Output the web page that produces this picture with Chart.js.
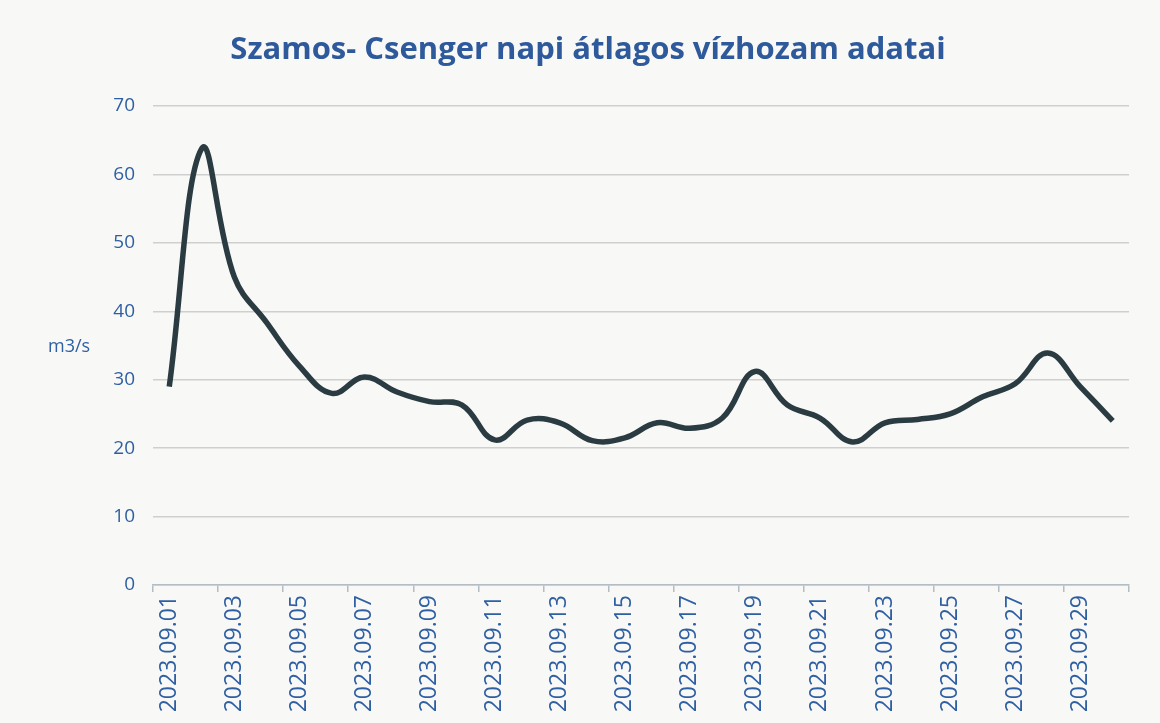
<!DOCTYPE html>
<html>
<head>
<meta charset="utf-8">
<script src="https://cdn.jsdelivr.net/npm/chart.js@4"></script>
<style>
html,body{margin:0;padding:0;background:#f8f8f6;}
#wrap{width:1160px;height:723px;position:relative;}
</style>
</head>
<body>
<div id="wrap"><canvas id="c" width="1160" height="723"></canvas></div>
<script>
const categories = ["2023.09.01","2023.09.02","2023.09.03","2023.09.04","2023.09.05","2023.09.06","2023.09.07","2023.09.08","2023.09.09","2023.09.10","2023.09.11","2023.09.12","2023.09.13","2023.09.14","2023.09.15","2023.09.16","2023.09.17","2023.09.18","2023.09.19","2023.09.20","2023.09.21","2023.09.22","2023.09.23","2023.09.24","2023.09.25","2023.09.26","2023.09.27","2023.09.28","2023.09.29","2023.09.30"];
const flowValues = [29.0,63.8,45.0,38.3,32.0,28.0,30.4,28.2,26.8,26.3,21.2,24.1,23.7,21.1,21.5,23.7,22.9,24.4,31.2,26.3,24.4,20.9,23.7,24.2,25.0,27.5,29.4,33.9,29.0,24.0];
const yTicks = [0,10,20,30,40,50,60,70];
const titleText = "Szamos- Csenger napi átlagos vízhozam adatai";
const unitText = "m3/s";

const blue = '#2f5fa3';
const textPlugin = {
  id: 'texts',
  afterDraw(chart) {
    const ctx = chart.ctx;
    ctx.save();
    ctx.font = 'bold 31px "Open Sans"';
    ctx.fillStyle = '#2e5a9c';
    ctx.textAlign = 'center';
    ctx.textBaseline = 'middle';
    ctx.fillText(titleText, 588, 50);
    ctx.font = '18px "Open Sans"';
    ctx.fillStyle = blue;
    ctx.textAlign = 'left';
    ctx.fillText(unitText, 48, 347);
    ctx.restore();
  }
};
const bgPlugin = {
  id: 'bg',
  beforeDraw(chart) {
    const ctx = chart.ctx;
    ctx.save();
    ctx.fillStyle = '#f8f8f6';
    ctx.fillRect(0, 0, chart.width, chart.height);
    ctx.restore();
  }
};

new Chart(document.getElementById('c'), {
  type: 'line',
  data: {
    labels: categories,
    datasets: [{
      data: flowValues,
      borderColor: '#2a3b42',
      borderWidth: 5.5,
      pointRadius: 0,
      tension: 0.4,
      fill: false
    }]
  },
  options: {
    responsive: false,
    animation: false,
    devicePixelRatio: 1,
    layout: { padding: { left: 0, right: 31, top: 106, bottom: 0 } },
    plugins: {
      legend: { display: false },
      tooltip: { enabled: false },
      title: { display: false }
    },
    scales: {
      x: {
        offset: true,
        grid: {
          offset: true,
          drawOnChartArea: false,
          drawTicks: true,
          tickLength: 7,
          color: (c) => (c.index === undefined || c.index % 2 === 0) ? '#b4bcc4' : 'rgba(0,0,0,0)',
          lineWidth: 1.5
        },
        border: { display: true, color: '#b4bcc4', width: 1.5 },
        ticks: {
          autoSkip: false,
          minRotation: 90,
          maxRotation: 90,
          color: blue,
          font: { family: '"Open Sans"', size: 23 },
          padding: 3,
          callback: function(v, i) { return i % 2 === 0 ? categories[i] : ''; }
        },
        afterFit: (s) => { s.height = 138; }
      },
      y: {
        min: 0,
        max: 70,
        afterBuildTicks: (s) => { s.ticks = yTicks.map(v => ({ value: v })); },
        grid: { color: '#cfcfcf', lineWidth: 1.5, drawTicks: false },
        border: { display: false },
        ticks: {
          color: blue,
          font: { family: '"Open Sans"', size: 19 },
          padding: 18
        },
        afterFit: (s) => { s.width = 153; }
      }
    }
  },
  plugins: [bgPlugin, textPlugin]
});
</script>
</body>
</html>
